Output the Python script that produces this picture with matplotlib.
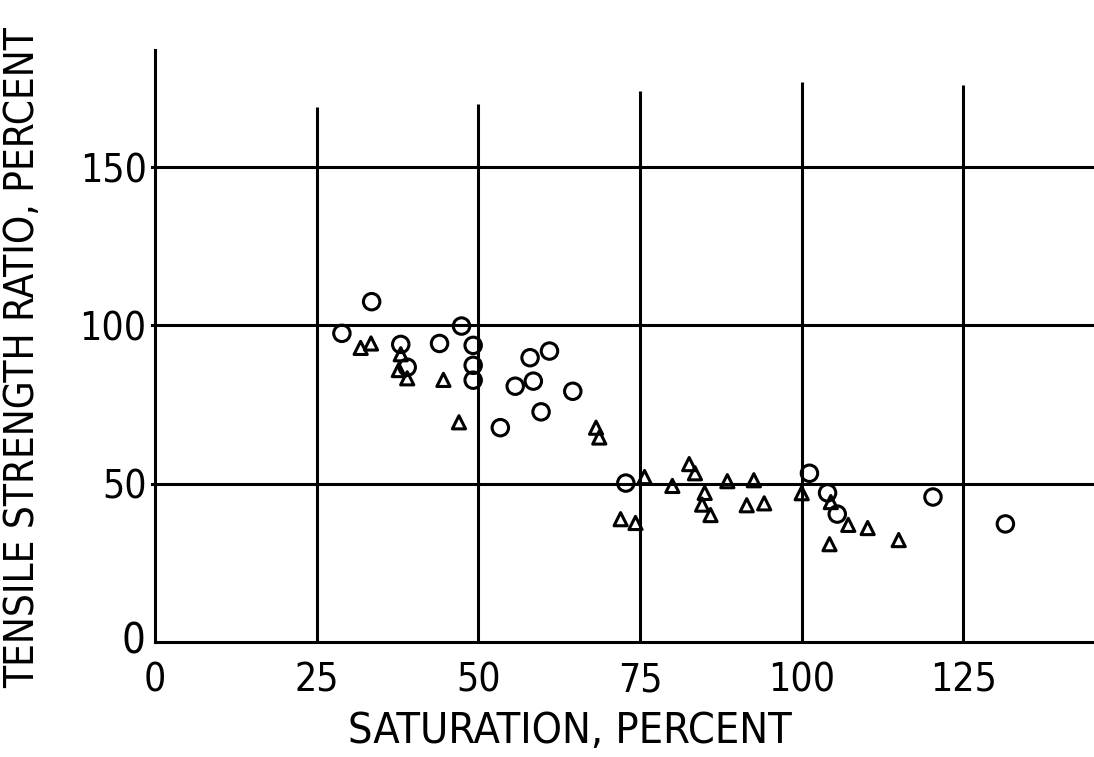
import numpy as np
import matplotlib
matplotlib.use('Agg')
import matplotlib.pyplot as plt

# circles (open)
circ_x = [33.5, 28.9, 38.0, 39.0, 44.0, 47.4, 49.2, 49.2, 49.2, 58.0, 61.0, 55.7, 58.5,
          59.7, 53.4, 64.6, 72.8, 101.2, 104.0, 105.5, 120.3, 131.5]
circ_y = [107.5, 97.5, 94.0, 86.8, 94.3, 99.8, 93.7, 87.4, 82.7, 89.8, 91.9, 80.8, 82.4,
          72.7, 67.7, 79.2, 50.2, 53.3, 47.1, 40.4, 45.8, 37.3]

# triangles (open)
tri_x = [31.8, 33.4, 38.0, 37.7, 39.0, 44.6, 47.0, 68.2, 68.7, 75.7, 72.0, 74.3, 80.0,
         82.6, 83.5, 85.0, 84.6, 85.9, 88.5, 92.6, 91.5, 94.2, 100.0, 104.5, 107.2,
         110.2, 104.3, 115.0]
tri_y = [92.9, 94.3, 90.9, 85.9, 83.3, 82.8, 69.4, 67.7, 64.6, 52.1, 38.8, 37.6, 49.3,
         56.2, 53.3, 47.1, 43.4, 40.1, 50.8, 51.1, 43.2, 43.8, 47.0, 44.2, 37.0,
         36.0, 30.9, 32.2]

x_grid = [25, 50, 75, 100, 125]
x_grid_top = [169, 170, 174, 177, 176]
y_grid = [50, 100, 150]
x_ticks = [0, 25, 50, 75, 100, 125]
x_labels = ['0', '25', '50', '75', '100', '125']
y_ticks = [50, 100, 150]
y_labels = ['50', '100', '150']

plt.rcParams['font.family'] = ['DejaVu Sans']
plt.rcParams['font.stretch'] = 'condensed'

fig = plt.figure(figsize=(10.94, 7.57), dpi=100)
W, H = 1094, 757
ax = fig.add_axes([155 / W, 1 - 642 / H, (W - 155) / W, (642 - 50) / H])
ax.set_xlim(0.77, 145.2)
ax.set_ylim(0, 187)

lw = 2.2
for xv, top in zip(x_grid, x_grid_top):
    ax.plot([xv, xv], [0, top], color='black', lw=lw, solid_capstyle='butt')
for yv in y_grid:
    ax.plot([-0.5, 146], [yv, yv], color='black', lw=lw, clip_on=False)

ax.scatter(circ_x, circ_y, s=140, facecolors='none', edgecolors='black', linewidths=2.2, marker='o', zorder=3)
ax.scatter(tri_x, tri_y, s=90, facecolors='none', edgecolors='black', linewidths=2.2, marker='^', zorder=3)

for s in ['top', 'right']:
    ax.spines[s].set_visible(False)
ax.spines['left'].set_linewidth(lw)
ax.spines['bottom'].set_linewidth(lw)

ax.set_xticks(x_ticks)
ax.set_xticklabels(x_labels, fontsize=28)
ax.set_yticks(y_ticks)
ax.set_yticklabels(y_labels, fontsize=28)
ax.tick_params(axis='x', length=0, pad=14)
ax.tick_params(axis='y', length=0, pad=6)
ax.text(-1.5, 0, '0', fontsize=30, ha='right', va='center')

ax.set_xlabel('SATURATION, PERCENT', fontsize=31)
ax.xaxis.set_label_coords(0.442, -0.115)
ax.set_ylabel('TENSILE STRENGTH RATIO, PERCENT', fontsize=29)
ax.yaxis.set_label_coords(-0.119, 0.48)

fig.savefig('out.png', dpi=100)
